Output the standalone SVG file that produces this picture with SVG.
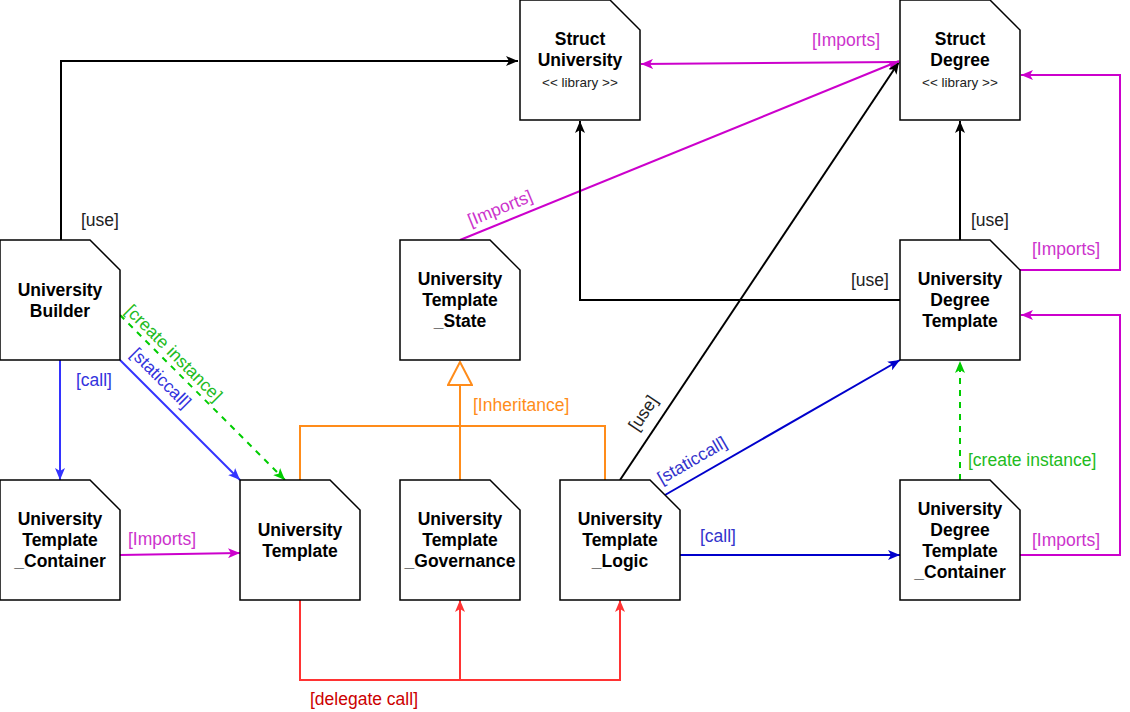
<svg xmlns="http://www.w3.org/2000/svg" width="1130" height="712" viewBox="0 0 1130 712">
<style>
.node path{fill:#fff;stroke:#000;stroke-width:1.5}
.node text{font-family:"Liberation Sans",Arial,sans-serif;font-size:17.5px;font-weight:bold;text-anchor:middle;fill:#000}
.node text.lib{font-weight:normal;font-size:13.5px;fill:#222}
.c{fill:none;stroke-width:2}
.lbl{font-family:"Liberation Sans",Arial,sans-serif;font-size:17.5px}
.k{stroke:#000}.b1{stroke:#3333FF}.b2{stroke:#0000CC}.m{stroke:#CC00CC}.g{stroke:#00CC00;stroke-dasharray:6 6}.o{stroke:#FF8C1A}.r{stroke:#FF3333}
</style>
<defs>
<marker id="ak" viewBox="0 0 12 10" refX="12" refY="5" markerWidth="12" markerHeight="10" markerUnits="userSpaceOnUse" orient="auto"><path d="M0,0 L12,5 L0,10 L3,5 Z" fill="#000"/></marker>
<marker id="ab1" viewBox="0 0 12 10" refX="12" refY="5" markerWidth="12" markerHeight="10" markerUnits="userSpaceOnUse" orient="auto"><path d="M0,0 L12,5 L0,10 L3,5 Z" fill="#3333FF"/></marker>
<marker id="ab2" viewBox="0 0 12 10" refX="12" refY="5" markerWidth="12" markerHeight="10" markerUnits="userSpaceOnUse" orient="auto"><path d="M0,0 L12,5 L0,10 L3,5 Z" fill="#0000CC"/></marker>
<marker id="am" viewBox="0 0 12 10" refX="12" refY="5" markerWidth="12" markerHeight="10" markerUnits="userSpaceOnUse" orient="auto"><path d="M0,0 L12,5 L0,10 L3,5 Z" fill="#CC00CC"/></marker>
<marker id="ag" viewBox="0 0 12 10" refX="12" refY="5" markerWidth="12" markerHeight="10" markerUnits="userSpaceOnUse" orient="auto"><path d="M0,0 L12,5 L0,10 L3,5 Z" fill="#00CC00"/></marker>
<marker id="ar" viewBox="0 0 12 10" refX="12" refY="5" markerWidth="12" markerHeight="10" markerUnits="userSpaceOnUse" orient="auto"><path d="M0,0 L12,5 L0,10 L3,5 Z" fill="#FF3333"/></marker>
<marker id="ao" viewBox="0 0 26 26" refX="24" refY="13" markerWidth="26" markerHeight="26" markerUnits="userSpaceOnUse" orient="auto"><path d="M1,1 L24,13 L1,25 Z" fill="#fff" stroke="#FF8C1A" stroke-width="2"/></marker>
</defs>
<rect width="1130" height="712" fill="#fff"/>
<g id="connectors">
<path class="c k" d="M61,240 V61 H518" marker-end="url(#ak)"/>
<text class="lbl" x="81" y="226" fill="#222">[use]</text>
<path class="c b1" d="M60,360 V480" marker-end="url(#ab1)"/>
<text class="lbl" x="76" y="386" fill="#3333DD">[call]</text>
<path class="c b1" d="M120,360 L240,480" marker-end="url(#ab1)"/>
<text class="lbl" transform="translate(161,378) rotate(45)" x="0" y="6" text-anchor="middle" fill="#3333DD">[staticcall]</text>
<path class="c g" d="M120,315 L285,480" marker-end="url(#ag)"/>
<text class="lbl" transform="translate(174,353) rotate(45)" x="0" y="6" text-anchor="middle" fill="#22BB22">[create instance]</text>
<path class="c m" d="M120,555 L240,553" marker-end="url(#am)"/>
<text class="lbl" x="128" y="545" fill="#CC33CC">[Imports]</text>
<path class="c o" d="M300,480 V426 H605 V480"/>
<path class="c o" d="M460,480 V362" marker-end="url(#ao)"/>
<text class="lbl" x="473" y="411" fill="#FF8C1A">[Inheritance]</text>
<path class="c r" d="M300,600 V680 H620 V600" marker-end="url(#ar)"/>
<path class="c r" d="M460,680 V600" marker-end="url(#ar)"/>
<text class="lbl" x="310" y="705" fill="#CC0000">[delegate call]</text>
<path class="c m" d="M460,240 L899,61" marker-end="url(#am)"/>
<text class="lbl" transform="translate(500,208) rotate(-22.2)" x="0" y="6" text-anchor="middle" fill="#CC33CC">[Imports]</text>
<path class="c k" d="M620,480 L899,62" marker-end="url(#ak)"/>
<text class="lbl" transform="translate(643,413) rotate(-56.3)" x="0" y="6" text-anchor="middle" fill="#222">[use]</text>
<path class="c m" d="M899,62 L641,64" marker-end="url(#am)"/>
<text class="lbl" x="812" y="46" fill="#CC33CC">[Imports]</text>
<path class="c b2" d="M665,495 L900,360" marker-end="url(#ab2)"/>
<text class="lbl" transform="translate(692,460) rotate(-30)" x="0" y="6" text-anchor="middle" fill="#3333CC">[staticcall]</text>
<path class="c b2" d="M680,555 L900,555" marker-end="url(#ab2)"/>
<text class="lbl" x="700" y="542" fill="#3333CC">[call]</text>
<path class="c g" d="M960,480 V361" marker-end="url(#ag)"/>
<text class="lbl" x="968" y="466" fill="#22BB22">[create instance]</text>
<path class="c m" d="M1020,555 H1120 V315 H1021" marker-end="url(#am)"/>
<text class="lbl" x="1032" y="546" fill="#CC33CC">[Imports]</text>
<path class="c m" d="M1020,270 H1120 V75 H1021" marker-end="url(#am)"/>
<text class="lbl" x="1032" y="255" fill="#CC33CC">[Imports]</text>
<path class="c k" d="M960,240 V121" marker-end="url(#ak)"/>
<text class="lbl" x="971" y="226" fill="#222">[use]</text>
<path class="c k" d="M900,300 H580 V121" marker-end="url(#ak)"/>
<text class="lbl" x="851" y="286" fill="#222">[use]</text>
</g>
<g id="struct-university" class="node"><path d="M520,0 H610 L640,30 V120 H520 Z"/><text x="580" y="45">Struct</text><text x="580" y="66">University</text><text class="lib" x="580" y="87">&lt;&lt; library &gt;&gt;</text></g>
<g id="struct-degree" class="node"><path d="M900,0 H990 L1020,30 V120 H900 Z"/><text x="960" y="45">Struct</text><text x="960" y="66">Degree</text><text class="lib" x="960" y="87">&lt;&lt; library &gt;&gt;</text></g>
<g id="university-builder" class="node"><path d="M0,240 H90 L120,270 V360 H0 Z"/><text x="60" y="296">University</text><text x="60" y="317">Builder</text></g>
<g id="university-template-state" class="node"><path d="M400,240 H490 L520,270 V360 H400 Z"/><text x="460" y="285">University</text><text x="460" y="306">Template</text><text x="460" y="327">_State</text></g>
<g id="university-degree-template" class="node"><path d="M900,240 H990 L1020,270 V360 H900 Z"/><text x="960" y="285">University</text><text x="960" y="306">Degree</text><text x="960" y="327">Template</text></g>
<g id="university-template-container" class="node"><path d="M0,480 H90 L120,510 V600 H0 Z"/><text x="60" y="525">University</text><text x="60" y="546">Template</text><text x="60" y="567">_Container</text></g>
<g id="university-template" class="node"><path d="M240,480 H330 L360,510 V600 H240 Z"/><text x="300" y="536">University</text><text x="300" y="557">Template</text></g>
<g id="university-template-governance" class="node"><path d="M400,480 H490 L520,510 V600 H400 Z"/><text x="460" y="525">University</text><text x="460" y="546">Template</text><text x="460" y="567">_Governance</text></g>
<g id="university-template-logic" class="node"><path d="M560,480 H650 L680,510 V600 H560 Z"/><text x="620" y="525">University</text><text x="620" y="546">Template</text><text x="620" y="567">_Logic</text></g>
<g id="university-degree-template-container" class="node"><path d="M900,480 H990 L1020,510 V600 H900 Z"/><text x="960" y="515">University</text><text x="960" y="536">Degree</text><text x="960" y="557">Template</text><text x="960" y="578">_Container</text></g>
</svg>
